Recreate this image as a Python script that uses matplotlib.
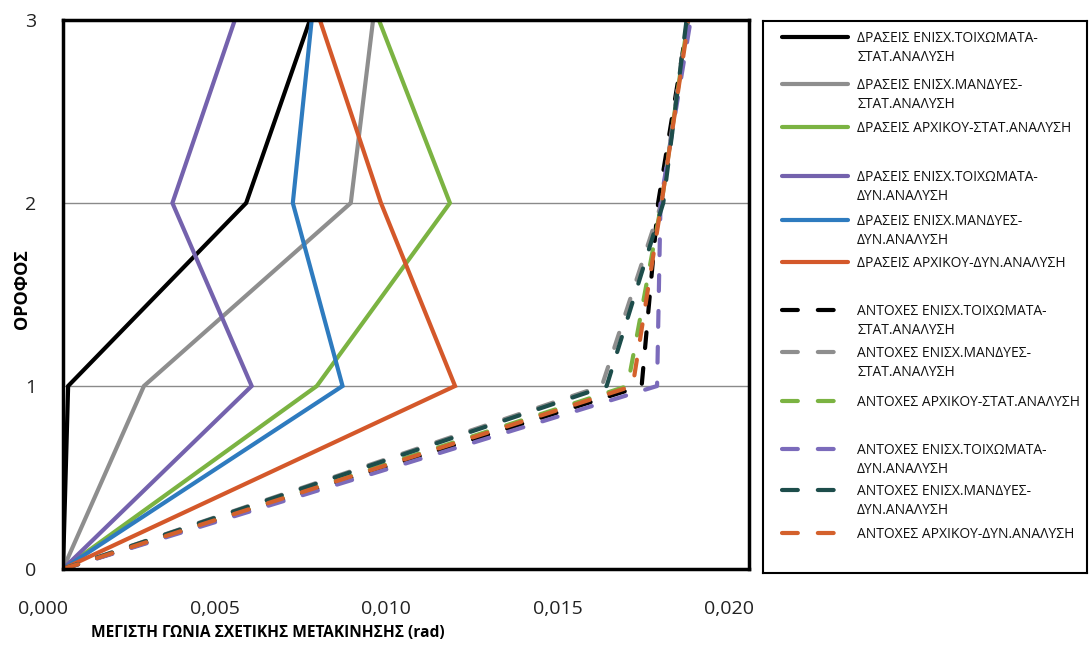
import matplotlib
matplotlib.use("Agg")
import matplotlib.pyplot as plt
from matplotlib.ticker import FuncFormatter
from matplotlib.lines import Line2D
from matplotlib.transforms import ScaledTranslation

plt.rcParams['font.family'] = ['Open Sans', 'DejaVu Sans']

# ---- data -------------------------------------------------------------
floors = [0, 1, 2, 3]
x_ticks = [0.000, 0.005, 0.010, 0.015, 0.020]
y_ticks = [0, 1, 2, 3]

# demands (solid lines)
dem_wall_stat = [0.0, 0.00015, 0.00534, 0.00720]
dem_jacket_stat = [0.0, 0.00236, 0.00839, 0.00904]
dem_orig_stat = [0.0, 0.00740, 0.01128, 0.00921]
dem_wall_dyn = [0.0, 0.00550, 0.00319, 0.00501]
dem_jacket_dyn = [0.0, 0.00815, 0.00670, 0.00725]
dem_orig_dyn = [0.0, 0.01143, 0.00927, 0.00749]

# capacities (dashed lines)
cap_wall_stat = [0.0, 0.01687, 0.01735, 0.01822]
cap_jacket_stat = [0.0, 0.01571, 0.01745, 0.01820]
cap_orig_stat = [0.0, 0.01646, 0.01745, 0.01822]
cap_wall_dyn = [0.0, 0.01732, 0.01742, 0.01830]
cap_jacket_dyn = [0.0, 0.01585, 0.01750, 0.01818]
cap_orig_dyn = [0.0, 0.01661, 0.01745, 0.01824]

labels = [
    "ΔΡΑΣΕΙΣ ΕΝΙΣΧ.ΤΟΙΧΩΜΑΤΑ-\nΣΤΑΤ.ΑΝΑΛΥΣΗ",
    "ΔΡΑΣΕΙΣ ΕΝΙΣΧ.ΜΑΝΔΥΕΣ-\nΣΤΑΤ.ΑΝΑΛΥΣΗ",
    "ΔΡΑΣΕΙΣ ΑΡΧΙΚΟΥ-ΣΤΑΤ.ΑΝΑΛΥΣΗ",
    "ΔΡΑΣΕΙΣ ΕΝΙΣΧ.ΤΟΙΧΩΜΑΤΑ-\nΔΥΝ.ΑΝΑΛΥΣΗ",
    "ΔΡΑΣΕΙΣ ΕΝΙΣΧ.ΜΑΝΔΥΕΣ-\nΔΥΝ.ΑΝΑΛΥΣΗ",
    "ΔΡΑΣΕΙΣ ΑΡΧΙΚΟΥ-ΔΥΝ.ΑΝΑΛΥΣΗ",
    "ΑΝΤΟΧΕΣ ΕΝΙΣΧ.ΤΟΙΧΩΜΑΤΑ-\nΣΤΑΤ.ΑΝΑΛΥΣΗ",
    "ΑΝΤΟΧΕΣ ΕΝΙΣΧ.ΜΑΝΔΥΕΣ-\nΣΤΑΤ.ΑΝΑΛΥΣΗ",
    "ΑΝΤΟΧΕΣ ΑΡΧΙΚΟΥ-ΣΤΑΤ.ΑΝΑΛΥΣΗ",
    "ΑΝΤΟΧΕΣ ΕΝΙΣΧ.ΤΟΙΧΩΜΑΤΑ-\nΔΥΝ.ΑΝΑΛΥΣΗ",
    "ΑΝΤΟΧΕΣ ΕΝΙΣΧ.ΜΑΝΔΥΕΣ-\nΔΥΝ.ΑΝΑΛΥΣΗ",
    "ΑΝΤΟΧΕΣ ΑΡΧΙΚΟΥ-ΔΥΝ.ΑΝΑΛΥΣΗ",
]

series = [dem_wall_stat, dem_jacket_stat, dem_orig_stat,
          dem_wall_dyn, dem_jacket_dyn, dem_orig_dyn,
          cap_wall_stat, cap_jacket_stat, cap_orig_stat,
          cap_wall_dyn, cap_jacket_dyn, cap_orig_dyn]

colors = ['#000000', '#8e8e8e', '#7bb342', '#7462ad', '#2e7bbf', '#d4582a',
          '#000000', '#8e8e8e', '#7bb342', '#7b6bbb', '#1d4d4b', '#d4612c']
dashed = [False] * 6 + [True] * 6

# ---- figure -------------------------------------------------------------
W, H = 1089, 645
fig = plt.figure(figsize=(W / 100, H / 100), dpi=100)
fig.patch.set_facecolor('white')

ax_l, ax_r, ax_t, ax_b = 63, 749, 20, 569
ax = fig.add_axes([ax_l / W, 1 - ax_b / H, (ax_r - ax_l) / W, (ax_b - ax_t) / H])

LW = 3.0
DASH = (3.8, 4.8)
for vals, c, d in zip(series, colors, dashed):
    line, = ax.plot(vals, floors, color=c, lw=LW, solid_capstyle='round',
                    solid_joinstyle='miter')
    if d:
        line.set_dashes(DASH)
        line.set_dash_capstyle('round')

ax.set_xlim(x_ticks[0], x_ticks[-1])
ax.set_ylim(y_ticks[0], y_ticks[-1])
ax.set_xticks(x_ticks)
ax.set_yticks(y_ticks)
ax.xaxis.set_major_formatter(FuncFormatter(lambda v, p: f"{v:.3f}".replace('.', ',')))
ax.tick_params(axis='both', length=0, labelsize=14, colors='#222222')
ax.tick_params(axis='x', pad=22)
ax.tick_params(axis='y', pad=19)
# the value labels sit a little left of their gridline positions
shift = ScaledTranslation(-0.20, 0, fig.dpi_scale_trans)
for lbl in ax.get_xticklabels():
    lbl.set_transform(lbl.get_transform() + shift)
ax.grid(axis='y', color='#8a8a8a', lw=1.0)
ax.set_axisbelow(True)
for s in ax.spines.values():
    s.set_linewidth(2.5)
    s.set_color('black')

fig.text(268 / W, 1 - 633 / H, "ΜΕΓΙΣΤΗ ΓΩΝΙΑ ΣΧΕΤΙΚΗΣ ΜΕΤΑΚΙΝΗΣΗΣ (rad)",
         fontsize=11.2, fontweight='bold', ha='center', va='center')
fig.text(22 / W, 1 - 289 / H, "ΟΡΟΦΟΣ", fontsize=13, fontweight='bold',
         rotation=90, ha='center', va='center')

# ---- legend panel -------------------------------------------------------
lg_l, lg_r, lg_t, lg_b = 763, 1087, 21, 573
lg = fig.add_axes([lg_l / W, 1 - lg_b / H, (lg_r - lg_l) / W, (lg_b - lg_t) / H])
lg.set_xlim(lg_l, lg_r)
lg.set_ylim(lg_b, lg_t)
lg.set_xticks([])
lg.set_yticks([])
for s in lg.spines.values():
    s.set_linewidth(1.5)
    s.set_color('black')

entry_y = [37, 84, 127, 176, 220, 262, 310, 352, 401, 449, 490, 533]
line_pitch = 19
for lab, c, d, y in zip(labels, colors, dashed, entry_y):
    h = Line2D([782, 848], [y, y], color=c, lw=LW, solid_capstyle='round')
    if d:
        h.set_dashes(DASH)
        h.set_dash_capstyle('round')
    lg.add_line(h)
    for k, part in enumerate(lab.split("\n")):
        lg.text(857, y + 5 + k * line_pitch, part, fontsize=10, ha='left',
                va='baseline', color='#111111')

fig.savefig("out.png", dpi=100, facecolor='white')
